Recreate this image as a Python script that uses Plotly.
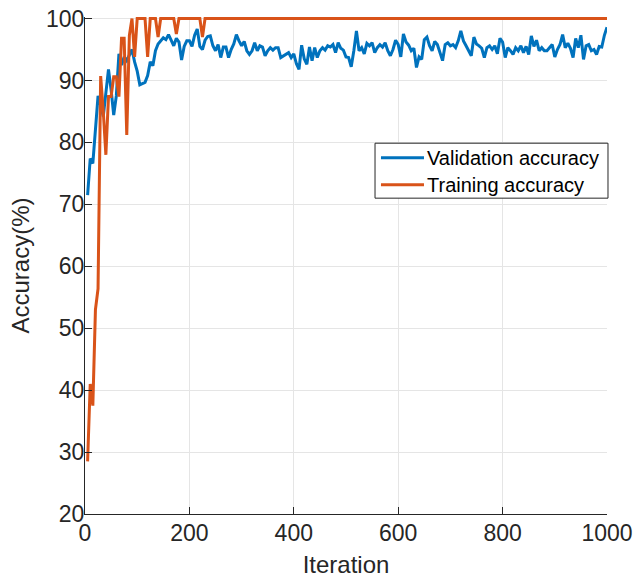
import plotly.graph_objects as go

iterations = list(range(5, 1001, 5))

validation_accuracy = [
    71.5, 77.4, 76.6, 82.0, 87.5, 86.0, 84.2, 88.0, 91.8, 88.5,
    84.4, 87.5, 94.3, 92.5, 93.8, 93.2, 94.0, 95.0, 93.0, 91.5,
    89.3, 89.5, 89.7, 90.8, 93.0, 92.4, 94.8, 95.9, 96.4, 96.9,
    96.6, 97.4, 96.5, 95.6, 96.8, 96.2, 93.3, 95.5, 96.4, 96.4,
    95.5, 97.3, 98.3, 95.5, 95.0, 96.5, 97.1, 97.2, 95.6, 94.8,
    95.8, 93.7, 95.4, 95.4, 93.7, 95.0, 95.9, 97.4, 96.4, 95.6,
    96.3, 94.8, 94.2, 94.8, 96.1, 94.8, 95.6, 95.4, 94.0, 94.8,
    95.3, 94.9, 95.3, 95.3, 93.7, 94.0, 94.3, 94.5, 93.7, 94.3,
    92.7, 91.8, 95.7, 93.5, 92.6, 95.4, 93.2, 95.3, 93.7, 94.8,
    95.3, 94.9, 95.6, 95.4, 95.8, 94.5, 96.1, 95.2, 94.9, 93.8,
    93.7, 92.2, 94.8, 98.0, 94.8, 95.3, 94.3, 96.0, 95.6, 96.1,
    94.5, 95.3, 95.8, 95.4, 96.1, 94.8, 94.0, 95.0, 96.5, 95.8,
    93.8, 97.5, 96.2, 95.7, 94.8, 95.2, 92.1, 93.8, 93.4, 96.6,
    97.0, 95.6, 94.8, 96.3, 95.8, 94.3, 93.2, 95.8, 96.1, 95.6,
    95.8, 95.3, 96.4, 98.0, 96.4, 95.6, 94.8, 94.0, 97.0, 95.9,
    95.6, 95.2, 93.7, 95.3, 95.6, 95.0, 95.6, 94.3, 96.8, 96.2,
    93.7, 95.3, 94.8, 94.2, 95.3, 94.8, 95.6, 94.5, 95.5, 94.2,
    97.2, 95.5, 96.5, 94.8, 95.3, 94.8, 94.8, 95.3, 95.8, 93.8,
    95.0, 95.8, 97.4, 95.3, 96.0, 95.2, 93.7, 96.8, 95.3, 97.3,
    93.4, 95.6, 95.8, 94.8, 95.0, 94.2, 95.5, 95.4, 97.3, 98.6,
]

training_accuracy = [
    28.5, 41.0, 37.5, 53.0, 56.4, 90.7, 85.0, 78.0, 87.4, 87.4,
    90.6, 90.6, 87.4, 96.8, 96.8, 81.2, 97.3, 100, 93.8, 100,
    100, 100, 100, 93.8, 100, 100, 100, 97.0, 100, 100,
    100, 100, 100, 100, 97.5, 100, 100, 100, 100, 100,
    100, 100, 100, 100, 97.0, 100, 100, 100, 100, 100,
    100, 100, 100, 100, 100, 100, 100, 100, 100, 100,
    100, 100, 100, 100, 100, 100, 100, 100, 100, 100,
    100, 100, 100, 100, 100, 100, 100, 100, 100, 100,
    100, 100, 100, 100, 100, 100, 100, 100, 100, 100,
    100, 100, 100, 100, 100, 100, 100, 100, 100, 100,
    100, 100, 100, 100, 100, 100, 100, 100, 100, 100,
    100, 100, 100, 100, 100, 100, 100, 100, 100, 100,
    100, 100, 100, 100, 100, 100, 100, 100, 100, 100,
    100, 100, 100, 100, 100, 100, 100, 100, 100, 100,
    100, 100, 100, 100, 100, 100, 100, 100, 100, 100,
    100, 100, 100, 100, 100, 100, 100, 100, 100, 100,
    100, 100, 100, 100, 100, 100, 100, 100, 100, 100,
    100, 100, 100, 100, 100, 100, 100, 100, 100, 100,
    100, 100, 100, 100, 100, 100, 100, 100, 100, 100,
    100, 100, 100, 100, 100, 100, 100, 100, 100, 100,
]

series_names = ["Validation accuracy", "Training accuracy"]
series_colors = ["#0072BD", "#D95319"]

x_ticks = [0, 200, 400, 600, 800, 1000]
y_ticks = [20, 30, 40, 50, 60, 70, 80, 90, 100]

FONT = "Arial, Liberation Sans, sans-serif"
AX = "#262626"

fig = go.Figure()
for name, color, values in zip(series_names, series_colors,
                               [validation_accuracy, training_accuracy]):
    fig.add_trace(go.Scatter(x=iterations, y=values, mode="lines", name=name,
                             showlegend=False,
                             line=dict(color=color, width=3)))

# legend box drawn in paper coordinates (MATLAB-style legend)
shapes = [dict(type="rect", xref="paper", yref="paper",
               x0=0.5556, x1=1.0019, y0=0.6355, y1=0.7461,
               line=dict(color=AX, width=1), fillcolor="white", layer="above")]
annotations = []
legend_rows_y = [0.7169, 0.6626]
for name, color, ly in zip(series_names, series_colors, legend_rows_y):
    shapes.append(dict(type="line", xref="paper", yref="paper",
                       x0=0.5670, x1=0.6494, y0=ly, y1=ly,
                       line=dict(color=color, width=3), layer="above"))
    annotations.append(dict(xref="paper", yref="paper", x=0.6515, y=ly,
                            xanchor="left", yanchor="middle", showarrow=False,
                            text=name, font=dict(size=20, color="black", family=FONT)))

fig.update_layout(
    width=633, height=578,
    margin=dict(l=85, r=26, t=17, b=64, autoexpand=False),
    paper_bgcolor="white", plot_bgcolor="white",
    font=dict(family=FONT, size=23, color=AX),
    showlegend=False,
    shapes=shapes,
    annotations=annotations,
    xaxis=dict(range=[0, 1000], tickvals=x_ticks, automargin=False,
               showgrid=True, gridcolor="#e5e5e5", gridwidth=1,
               zeroline=False, showline=True, linecolor=AX, linewidth=1.3,
               ticks="inside", ticklen=7, tickcolor=AX, tickwidth=1.3,
               ticklabeloverflow="allow", ticklabelstandoff=-2,
               tickfont=dict(size=23, color=AX),
               title=dict(text="Iteration", font=dict(size=24, color=AX), standoff=16)),
    yaxis=dict(range=[20, 100.25], tickvals=y_ticks, automargin=False,
               showgrid=True, gridcolor="#e5e5e5", gridwidth=1,
               zeroline=False, showline=True, linecolor=AX, linewidth=1.3,
               ticks="inside", ticklen=7, tickcolor=AX, tickwidth=1.3,
               ticklabeloverflow="allow", ticklabelstandoff=-5,
               tickfont=dict(size=23, color=AX),
               title=dict(text="Accuracy(%)", font=dict(size=24, color=AX), standoff=9)),
)

fig.write_html("out.html",
               config={"displayModeBar": False},
               post_script="document.body.style.margin='0';document.body.style.overflow='hidden';")
